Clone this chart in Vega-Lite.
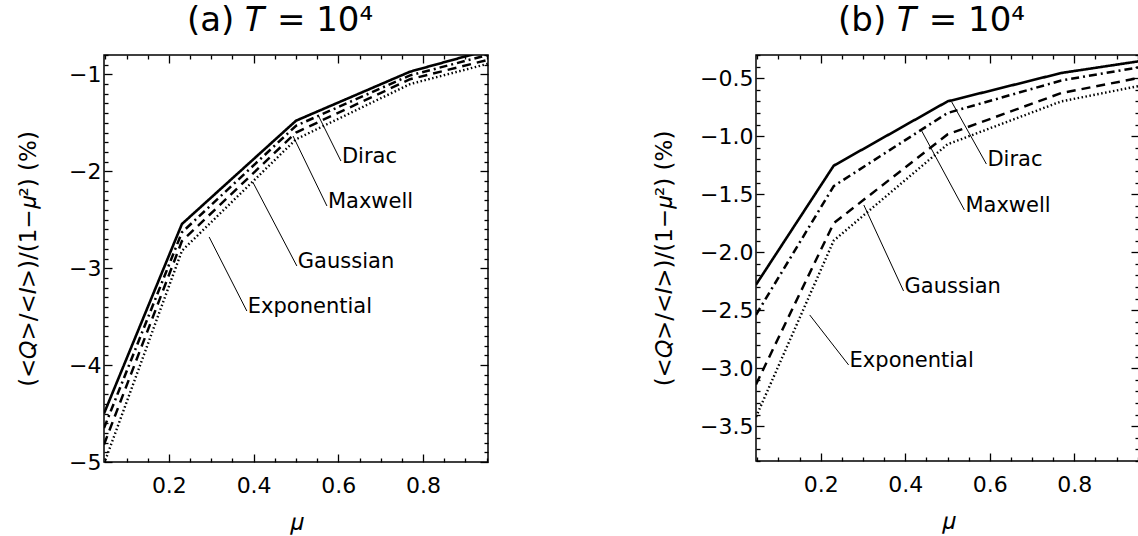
{
  "$schema": "https://vega.github.io/schema/vega-lite/v6.json",
  "background": "white",
  "padding": {"left": 16, "top": 3, "right": 0, "bottom": 0},
  "spacing": 162,
  "datasets": {
    "a_lines": [
      {"dist": "Dirac", "mu": 0.0469, "v": -4.50},
      {"dist": "Dirac", "mu": 0.2308, "v": -2.544},
      {"dist": "Dirac", "mu": 0.5, "v": -1.478},
      {"dist": "Dirac", "mu": 0.7692, "v": -0.972},
      {"dist": "Dirac", "mu": 0.9531, "v": -0.75},
      {"dist": "Maxwell", "mu": 0.0469, "v": -4.65},
      {"dist": "Maxwell", "mu": 0.2308, "v": -2.63},
      {"dist": "Maxwell", "mu": 0.5, "v": -1.53},
      {"dist": "Maxwell", "mu": 0.7692, "v": -1.01},
      {"dist": "Maxwell", "mu": 0.9531, "v": -0.80},
      {"dist": "Gaussian", "mu": 0.0469, "v": -4.82},
      {"dist": "Gaussian", "mu": 0.2308, "v": -2.72},
      {"dist": "Gaussian", "mu": 0.5, "v": -1.60},
      {"dist": "Gaussian", "mu": 0.7692, "v": -1.05},
      {"dist": "Gaussian", "mu": 0.9531, "v": -0.85},
      {"dist": "Exponential", "mu": 0.0469, "v": -5.02},
      {"dist": "Exponential", "mu": 0.2308, "v": -2.82},
      {"dist": "Exponential", "mu": 0.5, "v": -1.67},
      {"dist": "Exponential", "mu": 0.7692, "v": -1.10},
      {"dist": "Exponential", "mu": 0.9531, "v": -0.89}
    ],
    "b_lines": [
      {"dist": "Dirac", "mu": 0.0469, "v": -2.28},
      {"dist": "Dirac", "mu": 0.2308, "v": -1.254},
      {"dist": "Dirac", "mu": 0.5, "v": -0.70},
      {"dist": "Dirac", "mu": 0.7692, "v": -0.455},
      {"dist": "Dirac", "mu": 0.9531, "v": -0.354},
      {"dist": "Maxwell", "mu": 0.0469, "v": -2.54},
      {"dist": "Maxwell", "mu": 0.2308, "v": -1.43},
      {"dist": "Maxwell", "mu": 0.5, "v": -0.80},
      {"dist": "Maxwell", "mu": 0.7692, "v": -0.52},
      {"dist": "Maxwell", "mu": 0.9531, "v": -0.406},
      {"dist": "Gaussian", "mu": 0.0469, "v": -3.14},
      {"dist": "Gaussian", "mu": 0.2308, "v": -1.75},
      {"dist": "Gaussian", "mu": 0.5, "v": -0.985},
      {"dist": "Gaussian", "mu": 0.7692, "v": -0.628},
      {"dist": "Gaussian", "mu": 0.9531, "v": -0.498},
      {"dist": "Exponential", "mu": 0.0469, "v": -3.42},
      {"dist": "Exponential", "mu": 0.2308, "v": -1.90},
      {"dist": "Exponential", "mu": 0.5, "v": -1.07},
      {"dist": "Exponential", "mu": 0.7692, "v": -0.70},
      {"dist": "Exponential", "mu": 0.9531, "v": -0.567}
    ],
    "a_notes": [
      {"label": "Dirac", "mu0": 0.552, "v0": -1.419, "mu1": 0.606, "v1": -1.894},
      {"label": "Maxwell", "mu0": 0.493, "v0": -1.636, "mu1": 0.573, "v1": -2.358},
      {"label": "Gaussian", "mu0": 0.398, "v0": -2.111, "mu1": 0.502, "v1": -2.977},
      {"label": "Exponential", "mu0": 0.295, "v0": -2.678, "mu1": 0.384, "v1": -3.442}
    ],
    "b_notes": [
      {"label": "Dirac", "mu0": 0.510, "v0": -0.705, "mu1": 0.592, "v1": -1.24},
      {"label": "Maxwell", "mu0": 0.439, "v0": -0.955, "mu1": 0.540, "v1": -1.636},
      {"label": "Gaussian", "mu0": 0.302, "v0": -1.593, "mu1": 0.396, "v1": -2.334},
      {"label": "Exponential", "mu0": 0.174, "v0": -2.541, "mu1": 0.266, "v1": -2.972}
    ]
  },
  "hconcat": [
    {
      "width": 384,
      "height": 407,
      "title": {"text": "(a)  𝑇 = 10⁴", "fontSize": 34, "fontWeight": "normal", "font": "DejaVu Sans", "frame": "group", "anchor": "middle", "dx": -16, "offset": 6, "color": "black"},
      "layer": [
        {
          "data": {"name": "a_lines"},
          "mark": {"type": "line", "clip": true, "color": "black"},
          "encoding": {
            "x": {"field": "mu", "type": "quantitative", "scale": {"domain": [0.0469, 0.9531], "nice": false, "zero": false},
              "axis": {"orient": "bottom", "title": "𝜇", "titleFontSize": 24, "titlePadding": 10,
                "values": [0.05,0.1,0.15,0.2,0.25,0.3,0.35,0.4,0.45,0.5,0.55,0.6,0.65,0.7,0.75,0.8,0.85,0.9,0.95],
                "labelExpr": "abs(datum.value*5 - round(datum.value*5)) < 0.001 ? format(datum.value, '.1f') : ''",
                "tickSize": {"condition": {"test": "abs(datum.value*5 - round(datum.value*5)) < 0.001", "value": -8}, "value": -4},
                "labelPadding": 21, "labelOverlap": false, "labelFlush": false}},
            "y": {"field": "v", "type": "quantitative", "scale": {"domain": [-5, -0.8], "nice": false, "zero": false},
              "axis": {"orient": "left", "title": "(<𝑄>/<𝐼>)/(1−𝜇²) (%)", "titleFontSize": 23, "titlePadding": 14, "minExtent": 50, "maxExtent": 50,
                "values": [-5,-4.9,-4.8,-4.7,-4.6,-4.5,-4.4,-4.3,-4.2,-4.1,-4,-3.9,-3.8,-3.7,-3.6,-3.5,-3.4,-3.3,-3.2,-3.1,-3,-2.9,-2.8,-2.7,-2.6,-2.5,-2.4,-2.3,-2.2,-2.1,-2,-1.9,-1.8,-1.7,-1.6,-1.5,-1.4,-1.3,-1.2,-1.1,-1,-0.9,-0.8],
                "labelExpr": "abs(datum.value - round(datum.value)) < 0.001 ? format(datum.value, 'd') : ''",
                "tickSize": {"condition": {"test": "abs(datum.value - round(datum.value)) < 0.001", "value": -8}, "value": -4},
                "labelPadding": 11, "labelOverlap": false, "labelFlush": false}},
            "strokeDash": {"field": "dist", "type": "nominal", "legend": null,
              "scale": {"domain": ["Dirac", "Maxwell", "Gaussian", "Exponential"], "range": [[1, 0], [8, 4, 2, 4], [9, 6], [1.5, 2.5]]}},
            "strokeWidth": {"field": "dist", "type": "nominal", "legend": null,
              "scale": {"domain": ["Dirac", "Maxwell", "Gaussian", "Exponential"], "range": [2.6, 2.4, 2.6, 2]}}
          }
        },
        {
          "data": {"name": "a_notes"},
          "mark": {"type": "rule", "color": "black", "strokeWidth": 1},
          "encoding": {
            "x": {"field": "mu0", "type": "quantitative", "axis": null},
            "y": {"field": "v0", "type": "quantitative", "axis": null},
            "x2": {"field": "mu1"},
            "y2": {"field": "v1"}
          }
        },
        {
          "data": {"name": "a_notes"},
          "mark": {"type": "text", "align": "left", "baseline": "alphabetic", "dx": 1, "dy": 2, "fontSize": 21, "font": "DejaVu Sans", "color": "black"},
          "encoding": {
            "x": {"field": "mu1", "type": "quantitative",
              "axis": {"orient": "top", "title": null, "labels": false,
                "values": [0.05,0.1,0.15,0.2,0.25,0.3,0.35,0.4,0.45,0.5,0.55,0.6,0.65,0.7,0.75,0.8,0.85,0.9,0.95],
                "tickSize": {"condition": {"test": "abs(datum.value*5 - round(datum.value*5)) < 0.001", "value": -8}, "value": -4}}},
            "y": {"field": "v1", "type": "quantitative",
              "axis": {"orient": "right", "title": null, "labels": false,
                "values": [-5,-4.9,-4.8,-4.7,-4.6,-4.5,-4.4,-4.3,-4.2,-4.1,-4,-3.9,-3.8,-3.7,-3.6,-3.5,-3.4,-3.3,-3.2,-3.1,-3,-2.9,-2.8,-2.7,-2.6,-2.5,-2.4,-2.3,-2.2,-2.1,-2,-1.9,-1.8,-1.7,-1.6,-1.5,-1.4,-1.3,-1.2,-1.1,-1,-0.9,-0.8],
                "tickSize": {"condition": {"test": "abs(datum.value - round(datum.value)) < 0.001", "value": -8}, "value": -4}}},
            "text": {"field": "label"}
          }
        }
      ],
      "resolve": {"axis": {"x": "independent", "y": "independent"}}
    },
    {
      "width": 383,
      "height": 406,
      "title": {"text": "(b)  𝑇 = 10⁴", "fontSize": 34, "fontWeight": "normal", "font": "DejaVu Sans", "frame": "group", "anchor": "middle", "dx": -16, "offset": 6, "color": "black"},
      "layer": [
        {
          "data": {"name": "b_lines"},
          "mark": {"type": "line", "clip": true, "color": "black"},
          "encoding": {
            "x": {"field": "mu", "type": "quantitative", "scale": {"domain": [0.0469, 0.9531], "nice": false, "zero": false},
              "axis": {"orient": "bottom", "title": "𝜇", "titleFontSize": 24, "titlePadding": 10,
                "values": [0.05,0.1,0.15,0.2,0.25,0.3,0.35,0.4,0.45,0.5,0.55,0.6,0.65,0.7,0.75,0.8,0.85,0.9,0.95],
                "labelExpr": "abs(datum.value*5 - round(datum.value*5)) < 0.001 ? format(datum.value, '.1f') : ''",
                "tickSize": {"condition": {"test": "abs(datum.value*5 - round(datum.value*5)) < 0.001", "value": -8}, "value": -4},
                "labelPadding": 21, "labelOverlap": false, "labelFlush": false}},
            "y": {"field": "v", "type": "quantitative", "scale": {"domain": [-3.8, -0.3], "nice": false, "zero": false},
              "axis": {"orient": "left", "title": "(<𝑄>/<𝐼>)/(1−𝜇²) (%)", "titleFontSize": 23, "titlePadding": 14, "minExtent": 66, "maxExtent": 66,
                "values": [-3.8,-3.7,-3.6,-3.5,-3.4,-3.3,-3.2,-3.1,-3,-2.9,-2.8,-2.7,-2.6,-2.5,-2.4,-2.3,-2.2,-2.1,-2,-1.9,-1.8,-1.7,-1.6,-1.5,-1.4,-1.3,-1.2,-1.1,-1,-0.9,-0.8,-0.7,-0.6,-0.5,-0.4,-0.3],
                "labelExpr": "abs(datum.value*2 - round(datum.value*2)) < 0.001 ? format(datum.value, '.1f') : ''",
                "tickSize": {"condition": {"test": "abs(datum.value*2 - round(datum.value*2)) < 0.001", "value": -8}, "value": -4},
                "labelPadding": 11, "labelOverlap": false, "labelFlush": false}},
            "strokeDash": {"field": "dist", "type": "nominal", "legend": null,
              "scale": {"domain": ["Dirac", "Maxwell", "Gaussian", "Exponential"], "range": [[1, 0], [8, 4, 2, 4], [9, 6], [1.5, 2.5]]}},
            "strokeWidth": {"field": "dist", "type": "nominal", "legend": null,
              "scale": {"domain": ["Dirac", "Maxwell", "Gaussian", "Exponential"], "range": [2.6, 2.4, 2.6, 2]}}
          }
        },
        {
          "data": {"name": "b_notes"},
          "mark": {"type": "rule", "color": "black", "strokeWidth": 1},
          "encoding": {
            "x": {"field": "mu0", "type": "quantitative", "axis": null},
            "y": {"field": "v0", "type": "quantitative", "axis": null},
            "x2": {"field": "mu1"},
            "y2": {"field": "v1"}
          }
        },
        {
          "data": {"name": "b_notes"},
          "mark": {"type": "text", "align": "left", "baseline": "alphabetic", "dx": 1, "dy": 2, "fontSize": 21, "font": "DejaVu Sans", "color": "black"},
          "encoding": {
            "x": {"field": "mu1", "type": "quantitative",
              "axis": {"orient": "top", "title": null, "labels": false,
                "values": [0.05,0.1,0.15,0.2,0.25,0.3,0.35,0.4,0.45,0.5,0.55,0.6,0.65,0.7,0.75,0.8,0.85,0.9,0.95],
                "tickSize": {"condition": {"test": "abs(datum.value*5 - round(datum.value*5)) < 0.001", "value": -8}, "value": -4}}},
            "y": {"field": "v1", "type": "quantitative",
              "axis": {"orient": "right", "title": null, "labels": false,
                "values": [-3.8,-3.7,-3.6,-3.5,-3.4,-3.3,-3.2,-3.1,-3,-2.9,-2.8,-2.7,-2.6,-2.5,-2.4,-2.3,-2.2,-2.1,-2,-1.9,-1.8,-1.7,-1.6,-1.5,-1.4,-1.3,-1.2,-1.1,-1,-0.9,-0.8,-0.7,-0.6,-0.5,-0.4,-0.3],
                "tickSize": {"condition": {"test": "abs(datum.value*2 - round(datum.value*2)) < 0.001", "value": -8}, "value": -4}}},
            "text": {"field": "label"}
          }
        }
      ],
      "resolve": {"axis": {"x": "independent", "y": "independent"}}
    }
  ],
  "config": {
    "view": {"stroke": "black", "strokeWidth": 1.5},
    "axis": {"domain": false, "grid": false, "labelFont": "DejaVu Sans", "labelFontSize": 22, "labelColor": "black", "tickColor": "black", "tickWidth": 1.3, "titleFont": "DejaVu Sans", "titleFontWeight": "normal", "titleColor": "black"}
  }
}
